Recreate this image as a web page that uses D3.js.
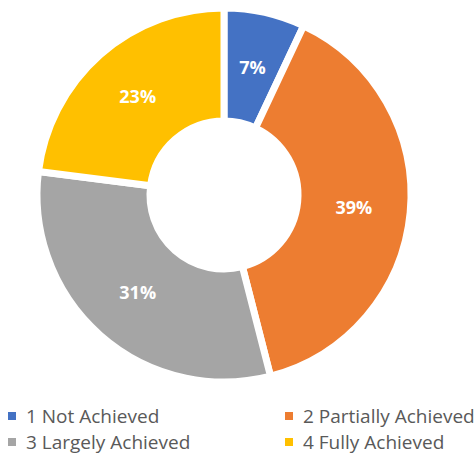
<!DOCTYPE html>
<html>
<head>
<meta charset="utf-8">
<script src="https://cdn.jsdelivr.net/npm/d3@7"></script>
<style>
  body { margin: 0; background: #fff; }
  svg { display: block; }
</style>
</head>
<body>
<div id="chart"></div>
<script>
    const categories = ["1 Not Achieved", "2 Partially Achieved", "3 Largely Achieved", "4 Fully Achieved"];
    const values = [7, 39, 31, 23];
    const colors = ["#4472C4", "#ED7D31", "#A5A5A5", "#FFC000"];

    const w = 474;
    const h = 455;
    const cx = 224;
    const cy = 195;
    const outerR = 187;
    const innerR = 74;

    const svg = d3.select('#chart')
        .append('svg')
        .attr('width', w)
        .attr('height', h);

    const pie = d3.pie().sort(null).value((d) => d);
    const arcs = pie(values);

    const arc = d3.arc().innerRadius(innerR).outerRadius(outerR);
    const labelArc = d3.arc().innerRadius((innerR + outerR) / 2).outerRadius((innerR + outerR) / 2);

    const g = svg.append('g')
        .attr('transform', 'translate(' + cx + ',' + cy + ')');

    g.selectAll('path')
        .data(arcs)
        .enter()
        .append('path')
        .attr('d', arc)
        .attr('fill', (d, i) => colors[i])
        .attr('stroke', '#fff')
        .attr('stroke-width', 7)
        .attr('stroke-linejoin', 'miter');

    g.selectAll('.label')
        .data(arcs)
        .enter()
        .append('text')
        .attr('class', 'label')
        .attr('transform', (d) => 'translate(' + labelArc.centroid(d) + ')')
        .attr('text-anchor', 'middle')
        .attr('dy', '0.35em')
        .attr('fill', '#fff')
        .style('font-family', '"Open Sans", sans-serif')
        .style('font-weight', 'bold')
        .style('font-size', '18px')
        .text((d) => d.data + '%');

    // legend, two columns
    const legend = svg.selectAll('.legend')
        .data(categories)
        .enter().append('g')
        .attr('class', 'legend')
        .attr('transform', function (d, i) {
            const x = (i % 2 === 0) ? 8 : 285;
            const y = (i < 2) ? 416 : 442;
            return 'translate(' + x + ',' + y + ')';
        });

    legend.append('rect')
        .attr('x', 0)
        .attr('y', -4)
        .attr('width', 8)
        .attr('height', 8)
        .attr('fill', (d, i) => colors[i]);

    legend.append('text')
        .attr('x', 18)
        .attr('y', 0)
        .attr('dy', '0.35em')
        .attr('fill', '#595959')
        .style('font-family', '"Open Sans", sans-serif')
        .style('font-size', '19px')
        .text((d) => d);
</script>
</body>
</html>
